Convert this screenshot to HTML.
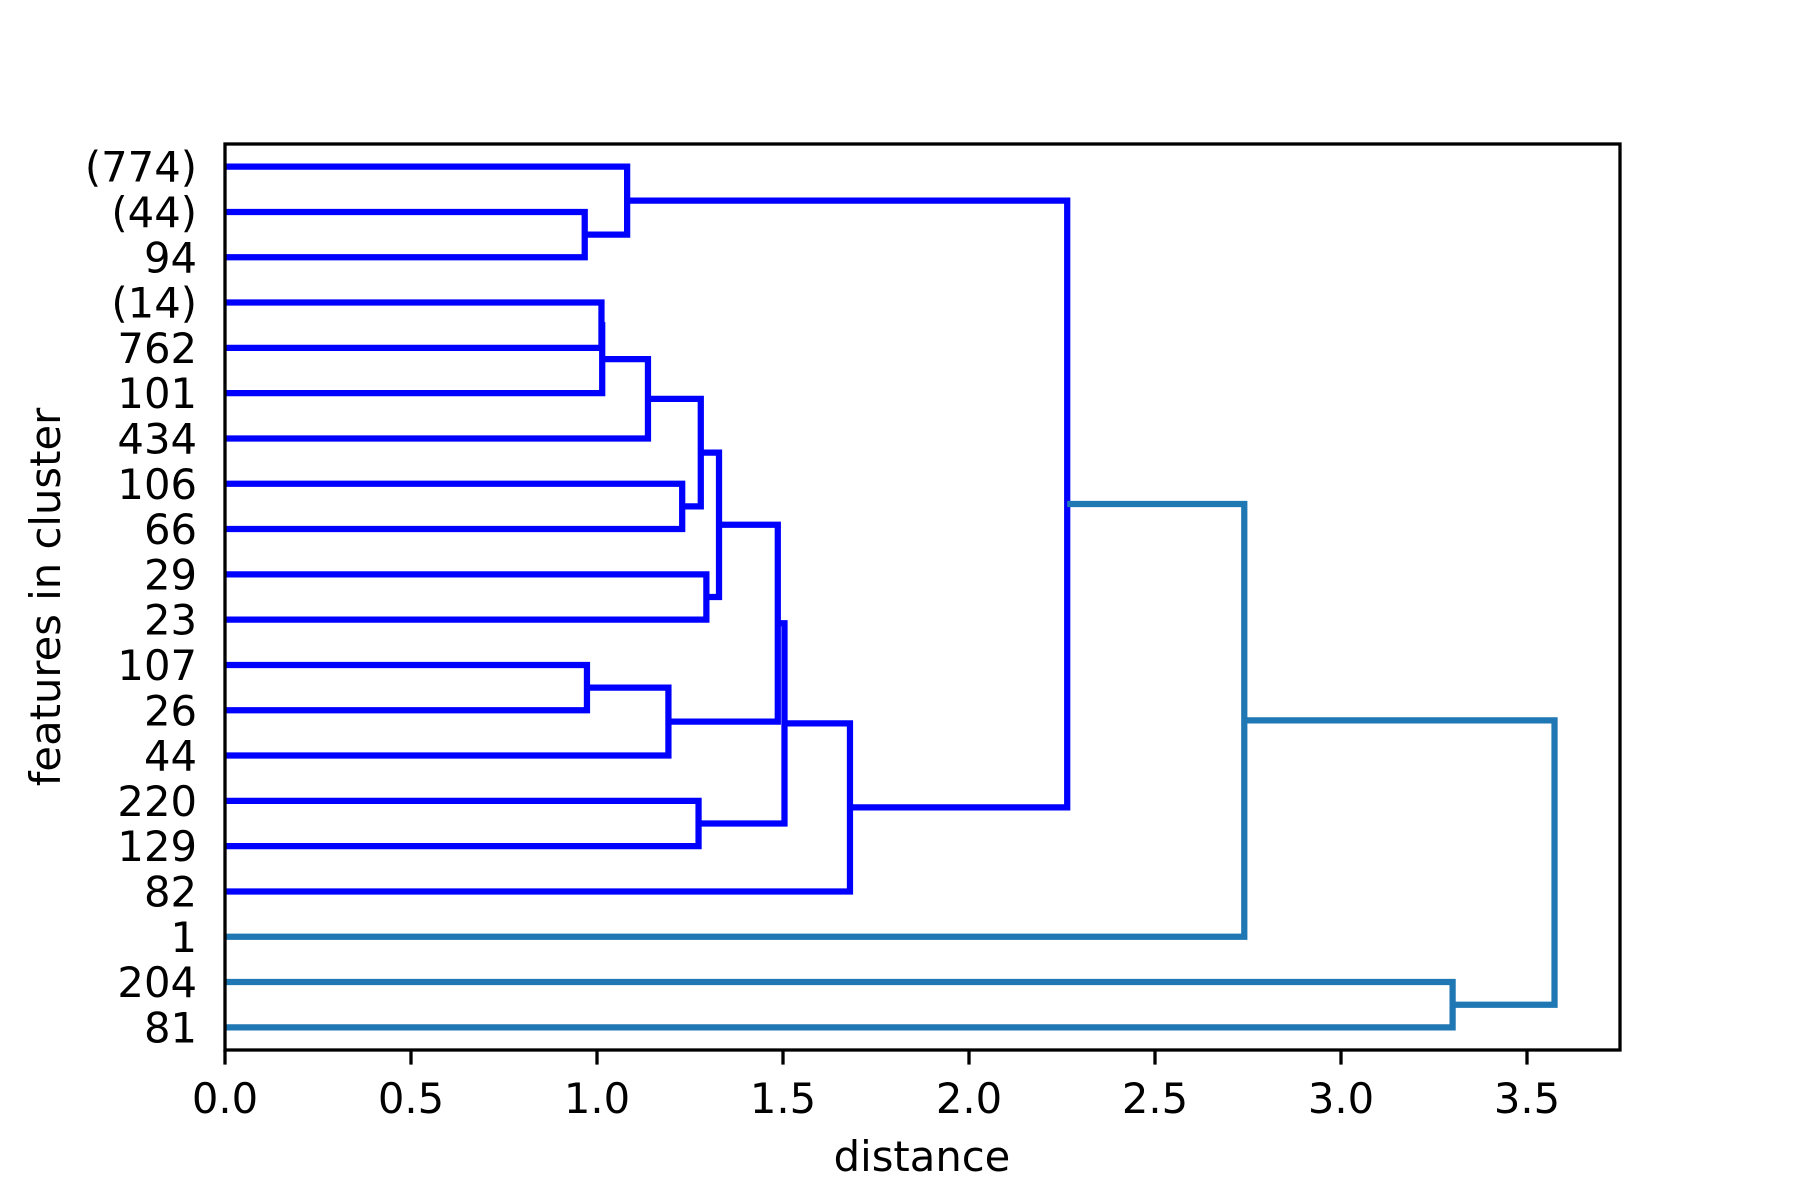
<!DOCTYPE html>
<html><head><meta charset="utf-8"><style>
html,body{margin:0;padding:0;background:#fff;}
svg{display:block;font-family:"DejaVu Sans","Liberation Sans",sans-serif;}
</style></head><body>
<svg id="chart" width="1800" height="1200" viewBox="0 0 1800 1200" xmlns="http://www.w3.org/2000/svg">
<rect x="0" y="0" width="1800" height="1200" fill="#fff"/>
<g id="links"></g>
<g id="yticks"></g>
<g id="xticks"></g>
<rect x="225" y="144" width="1395" height="906" fill="none" stroke="#000" stroke-width="3.3"/>
<text x="922" y="1171" font-size="41.7" text-anchor="middle">distance</text>
<text transform="translate(60,597) rotate(-90)" font-size="41.7" text-anchor="middle">features in cluster</text>
</svg>
<script>
const leafLabels = ["(774)","(44)","94","(14)","762","101","434","106","66","29","23","107","26","44","220","129","82","1","204","81"];
const mergeA = [1,0,3,22,23,7,24,9,26,11,29,28,14,31,33,21,35,18,36];
const mergeB = [2,20,4,5,6,8,25,10,27,12,13,30,15,32,16,34,17,19,37];
const mergeDist = [0.967,1.081,1.012,1.014,1.137,1.229,1.279,1.294,1.328,0.973,1.192,1.486,1.273,1.504,1.680,2.264,2.74,3.30,3.574];
const mergeColor = ["#0000ff","#0000ff","#0000ff","#0000ff","#0000ff","#0000ff","#0000ff","#0000ff","#0000ff","#0000ff","#0000ff","#0000ff","#0000ff","#0000ff","#0000ff","#0000ff","#1f77b4","#1f77b4","#1f77b4"];
const xTicks = [0,0.5,1,1.5,2,2.5,3,3.5];
const xTickLabels = ["0.0","0.5","1.0","1.5","2.0","2.5","3.0","3.5"];

const NS = "http://www.w3.org/2000/svg";
const L = 225, R = 1620, T = 144, B = 1050, XMAX = 3.75, YMAX = leafLabels.length * 10;
const xs = v => L + v / XMAX * (R - L);
const ys = p => T + p / YMAX * (B - T);

const pos = [], hgt = [];
leafLabels.forEach((l, i) => { pos.push(5 + 10 * i); hgt.push(0); });
const links = document.getElementById('links');
mergeA.forEach((a, k) => {
  const b = mergeB[k], d = mergeDist[k];
  const p = document.createElementNS(NS, 'polyline');
  
  
  const pts = [[xs(hgt[a]), ys(pos[a])], [xs(d), ys(pos[a])], [xs(d), ys(pos[b])], [xs(hgt[b]), ys(pos[b])]];
  p.setAttribute('points', pts.map(q => q.join(',')).join(' '));
  p.setAttribute('fill', 'none');
  p.setAttribute('stroke', mergeColor[k]);
  p.setAttribute('stroke-width', '6.25');
  links.appendChild(p);
  pos.push((pos[a] + pos[b]) / 2);
  hgt.push(d);
});

const yt = document.getElementById('yticks');
leafLabels.forEach((l, i) => {
  const t = document.createElementNS(NS, 'text');
  
  
  t.setAttribute('x', 197);
  t.setAttribute('y', ys(5 + 10 * i) + 15);
  t.setAttribute('font-size', '41.7');
  t.setAttribute('text-anchor', 'end');
  t.textContent = l;
  yt.appendChild(t);
});

const xt = document.getElementById('xticks');
xTicks.forEach((v, i) => {
  const ln = document.createElementNS(NS, 'line');
  
  
  ln.setAttribute('x1', xs(v)); ln.setAttribute('x2', xs(v));
  ln.setAttribute('y1', B); ln.setAttribute('y2', B + 14.6);
  ln.setAttribute('stroke', '#000'); ln.setAttribute('stroke-width', '3.3');
  xt.appendChild(ln);
  const t = document.createElementNS(NS, 'text');
  
  
  t.setAttribute('x', xs(v));
  t.setAttribute('y', 1113);
  t.setAttribute('font-size', '41.7');
  t.setAttribute('text-anchor', 'middle');
  t.textContent = xTickLabels[i];
  xt.appendChild(t);
});
</script>
</body></html>
